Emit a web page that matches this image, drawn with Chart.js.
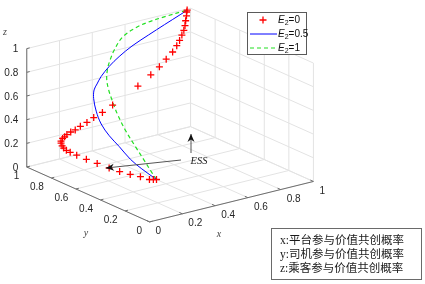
<!DOCTYPE html>
<html>
<head>
<meta charset="utf-8">
<script src="https://cdn.jsdelivr.net/npm/chart.js@4.4.0/dist/chart.umd.min.js"></script>
<style>
  html, body { margin: 0; padding: 0; background: #fff; }
  #wrap { width: 425px; height: 284px; }
</style>
</head>
<body>
<div id="wrap"><canvas id="chart" width="425" height="284"></canvas></div>
<script>
// trajectories, one [x, y, z] triple per sample
const seriesLabels = ["0", "0.5", "1"]
const tickValues = [0, 0.2, 0.4, 0.6, 0.8, 1]
const tickLabels = ["0", "0.2", "0.4", "0.6", "0.8", "1"]

// E2 = 0
const e0X = [0.192, 0.179, 0.164, 0.154, 0.133, 0.117, 0.107, 0.100, 0.094, 0.092, 0.092, 0.094, 0.104, 0.117,
  0.127, 0.138, 0.159, 0.179, 0.200, 0.231, 0.266, 0.301, 0.345, 0.390, 0.447, 0.513,
  0.671, 0.752, 0.806, 0.849, 0.889, 0.915, 0.933, 0.947, 0.959, 0.966, 0.970, 0.975, 0.976, 0.979]
const e0Y = [0.200, 0.208, 0.220, 0.280, 0.335, 0.400, 0.472, 0.560, 0.640, 0.716, 0.769, 0.803, 0.838, 0.868,
  0.890, 0.905, 0.920, 0.930, 0.940, 0.950, 0.960, 0.965, 0.970, 0.975, 0.980, 0.985,
  0.990, 0.993, 0.995, 0.997, 0.998, 0.999, 1, 1, 1, 1, 1, 1, 1, 1]
const e0Z = [0.2, 0.2, 0.2, 0.2, 0.2, 0.2, 0.2, 0.2, 0.2, 0.2, 0.2, 0.2, 0.2, 0.2,
  0.209, 0.216, 0.224, 0.226, 0.234, 0.240, 0.241, 0.257, 0.273, 0.296, 0.318, 0.355,
  0.459, 0.525, 0.573, 0.622, 0.669, 0.713, 0.751, 0.791, 0.827, 0.865, 0.904, 0.944, 0.976, 0.991]

// E2 = 0.5
const e05X = [0.192, 0.215, 0.243, 0.264, 0.264, 0.267, 0.274, 0.296, 0.321, 0.354, 0.394, 0.459, 0.534, 0.620, 0.727, 0.834, 0.941, 0.979]
const e05Y = [0.200, 0.350, 0.480, 0.600, 0.680, 0.750, 0.800, 0.850, 0.880, 0.900, 0.920, 0.940, 0.960, 0.970, 0.980, 0.990, 1, 1]
const e05Z = [0.200, 0.212, 0.223, 0.269, 0.322, 0.388, 0.471, 0.546, 0.597, 0.627, 0.667, 0.722, 0.769, 0.824, 0.875, 0.923, 0.969, 0.991]

// E2 = 1
const e1X = [0.192, 0.237, 0.278, 0.303, 0.318, 0.329, 0.344, 0.350, 0.368, 0.397, 0.426, 0.466, 0.538, 0.633, 0.727, 0.844, 0.979]
const e1Y = [0.200, 0.300, 0.420, 0.520, 0.620, 0.700, 0.760, 0.800, 0.840, 0.870, 0.890, 0.910, 0.940, 0.960, 0.980, 0.990, 1]
const e1Z = [0.200, 0.200, 0.239, 0.292, 0.376, 0.472, 0.547, 0.624, 0.696, 0.762, 0.808, 0.869, 0.939, 0.977, 0.985, 0.990, 0.991]

const boxNotes = ["x:平台参与价值共创概率", "y:司机参与价值共创概率", "z:乘客参与价值共创概率"]

// orthographic view of the unit cube, in page units
const view = { ox: 148, oy: 225, xv: [168, -42], yv: [-126, -57], zv: [0, -123] }

function project(x, y, z) {
  return {
    x: view.ox + view.xv[0] * x + view.yv[0] * y + view.zv[0] * z,
    y: view.oy + view.xv[1] * x + view.yv[1] * y + view.zv[1] * z,
  }
}

const toPoints = (xs, ys, zs) => xs.map((x, i) => project(x, ys[i], zs[i]))

function toPx(chart, x, y, z) {
  const p = project(x, y, z)
  return { x: chart.scales.x.getPixelForValue(p.x), y: chart.scales.y.getPixelForValue(p.y) }
}

function seg(chart, ctx, a, b) {
  const p = toPx(chart, ...a)
  const q = toPx(chart, ...b)
  ctx.moveTo(p.x, p.y)
  ctx.lineTo(q.x, q.y)
}

// walls, grid, axes and tick labels
const cubePlugin = {
  id: "cube",
  beforeDatasetsDraw(chart) {
    const ctx = chart.ctx
    ctx.save()

    ctx.strokeStyle = "#e3e3e3"
    ctx.lineWidth = 1
    ctx.beginPath()
    tickValues.forEach((t) => {
      seg(chart, ctx, [t, 0, 0], [t, 1, 0])
      seg(chart, ctx, [0, t, 0], [1, t, 0])
      seg(chart, ctx, [t, 1, 0], [t, 1, 1])
      seg(chart, ctx, [0, 1, t], [1, 1, t])
      seg(chart, ctx, [1, t, 0], [1, t, 1])
      seg(chart, ctx, [1, 0, t], [1, 1, t])
    })
    ctx.stroke()

    ctx.strokeStyle = "#6e6e6e"
    ctx.beginPath()
    seg(chart, ctx, [0, 0, 0], [1, 0, 0])
    seg(chart, ctx, [0, 0, 0], [0, 1, 0])
    seg(chart, ctx, [0, 1, 0], [0, 1, 1])
    tickValues.forEach((t) => {
      seg(chart, ctx, [t, 0, 0], [t, 0.025, 0])
      seg(chart, ctx, [0, t, 0], [0.018, t, 0])
      seg(chart, ctx, [0, 1, t], [0.018, 1, t])
    })
    ctx.stroke()

    ctx.fillStyle = "#262626"
    ctx.font = "10px 'Liberation Sans', Arial, sans-serif"
    ctx.textBaseline = "middle"
    tickValues.forEach((t, i) => {
      let p = toPx(chart, t, 0, 0)
      ctx.textAlign = "left"
      ctx.fillText(tickLabels[i], p.x + 6, p.y + 9.5)
      p = toPx(chart, 0, t, 0)
      ctx.textAlign = "right"
      ctx.fillText(tickLabels[i], p.x - 7.5, p.y + 9.5)
      p = toPx(chart, 0, 1, t)
      ctx.fillText(tickLabels[i], p.x - 8.5, p.y + 1)
    })

    ctx.font = "italic 10px 'Liberation Serif', 'Times New Roman', serif"
    ctx.textAlign = "center"
    ctx.fillStyle = "#444"
    ctx.fillText("x", 219, 234)
    ctx.fillText("y", 86, 233)
    ctx.fillText("z", 5, 32)
    ctx.restore()
  },
}

function arrow(ctx, x1, y1, x2, y2) {
  ctx.strokeStyle = "#555"
  ctx.lineWidth = 1
  ctx.beginPath()
  ctx.moveTo(x1, y1)
  ctx.lineTo(x2, y2)
  ctx.stroke()
  const a = Math.atan2(y2 - y1, x2 - x1)
  const len = 8, half = 3.5
  const bx = x2 - Math.cos(a) * len, by = y2 - Math.sin(a) * len
  const nx = x2 - Math.cos(a) * len * 0.7, ny = y2 - Math.sin(a) * len * 0.7
  ctx.fillStyle = "#111"
  ctx.beginPath()
  ctx.moveTo(x2, y2)
  ctx.lineTo(bx - Math.sin(a) * half, by + Math.cos(a) * half)
  ctx.lineTo(nx, ny)
  ctx.lineTo(bx + Math.sin(a) * half, by - Math.cos(a) * half)
  ctx.closePath()
  ctx.fill()
}

// legend, ESS arrows and the note box
const overlayPlugin = {
  id: "overlay",
  afterDatasetsDraw(chart) {
    const ctx = chart.ctx
    const ds = chart.data.datasets
    ctx.save()

    // legend
    ctx.fillStyle = "#fff"
    ctx.fillRect(247.5, 12.5, 59, 42)
    ctx.strokeStyle = "#5a5a5a"
    ctx.lineWidth = 1
    ctx.strokeRect(247.5, 12.5, 59, 42)
    const rows = [20, 34, 48]
    rows.forEach((y, i) => {
      const d = ds[i]
      ctx.strokeStyle = d.borderColor
      if (i === 0) {
        ctx.lineWidth = d.pointBorderWidth
        ctx.beginPath()
        ctx.moveTo(259.5, y); ctx.lineTo(266.5, y)
        ctx.moveTo(263, y - 3.5); ctx.lineTo(263, y + 3.5)
        ctx.stroke()
      } else {
        ctx.lineWidth = d.borderWidth
        ctx.setLineDash(d.borderDash || [])
        ctx.beginPath()
        ctx.moveTo(250, y); ctx.lineTo(277, y)
        ctx.stroke()
        ctx.setLineDash([])
      }
      ctx.fillStyle = "#111"
      ctx.textBaseline = "middle"
      ctx.textAlign = "left"
      ctx.font = "italic 10px 'Liberation Sans', Arial, sans-serif"
      ctx.fillText("E", 278, y)
      let x = 278 + ctx.measureText("E").width
      ctx.font = "7px 'Liberation Sans', Arial, sans-serif"
      ctx.fillText("2", x, y + 3)
      x += ctx.measureText("2").width
      ctx.font = "10px 'Liberation Sans', Arial, sans-serif"
      ctx.fillText("=" + seriesLabels[i], x, y)
    })

    // ESS annotation
    arrow(ctx, 191, 153, 191, 134)
    arrow(ctx, 181, 160, 106, 168)
    ctx.fillStyle = "#222"
    ctx.font = "italic 10.5px 'Liberation Serif', 'Times New Roman', serif"
    ctx.textAlign = "center"
    ctx.textBaseline = "middle"
    ctx.fillText("ESS", 199, 161)

    // note box
    ctx.fillStyle = "#fff"
    ctx.fillRect(271.5, 228.5, 150, 51)
    ctx.strokeStyle = "#6a6a6a"
    ctx.strokeRect(271.5, 228.5, 150, 51)
    ctx.fillStyle = "#1a1a1a"
    ctx.textAlign = "left"
    ctx.font = "11.5px 'Liberation Serif', 'Noto Sans CJK SC', serif"
    boxNotes.forEach((t, i) => ctx.fillText(t, 280, 240.5 + i * 14))
    ctx.restore()
  },
}

new Chart(document.getElementById("chart"), {
  type: "scatter",
  data: {
    datasets: [
      {
        label: "E2=" + seriesLabels[0],
        data: toPoints(e0X, e0Y, e0Z),
        showLine: false,
        pointStyle: "cross",
        pointRadius: 3.5,
        pointBorderWidth: 1.3,
        borderColor: "#ff0000",
        pointBorderColor: "#ff0000",
      },
      {
        label: "E2=" + seriesLabels[1],
        data: toPoints(e05X, e05Y, e05Z),
        showLine: true,
        pointRadius: 0,
        borderColor: "#0000ff",
        borderWidth: 1,
        tension: 0.35,
      },
      {
        label: "E2=" + seriesLabels[2],
        data: toPoints(e1X, e1Y, e1Z),
        showLine: true,
        pointRadius: 0,
        borderColor: "#22e022",
        borderWidth: 1.2,
        borderDash: [4, 3],
        tension: 0.35,
      },
    ],
  },
  options: {
    responsive: false,
    animation: false,
    devicePixelRatio: 1,
    layout: { padding: 0 },
    plugins: {
      legend: { display: false },
      tooltip: { enabled: false },
    },
    scales: {
      x: { type: "linear", min: 0, max: 425, display: false },
      y: { type: "linear", min: 0, max: 284, reverse: true, display: false },
    },
  },
  plugins: [cubePlugin, overlayPlugin],
})
</script>
</body>
</html>
